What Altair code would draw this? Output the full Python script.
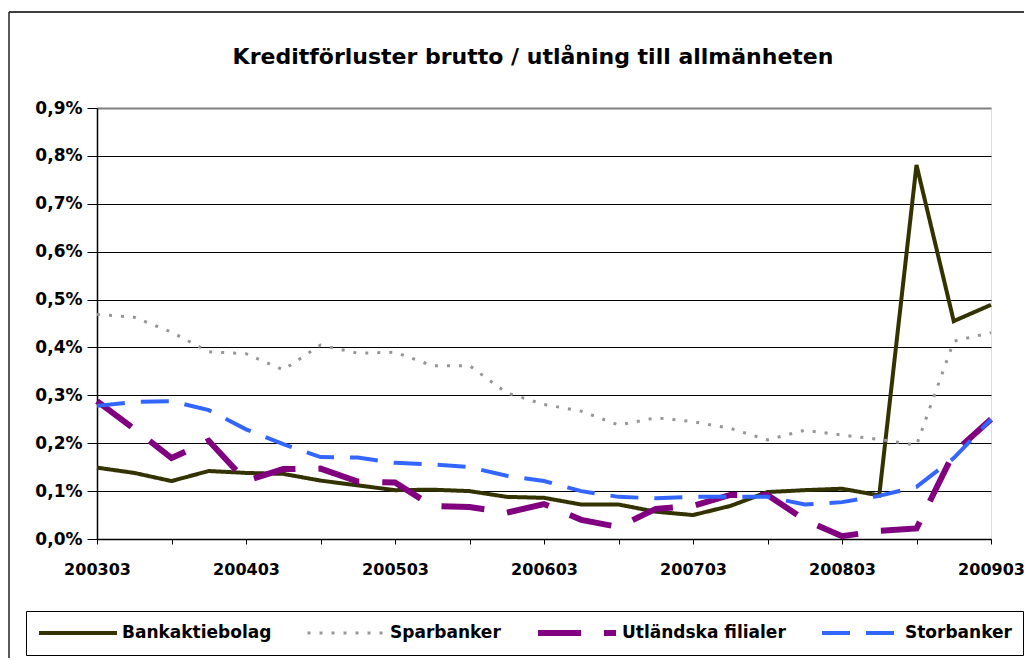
import altair as alt
import pandas as pd

quarters = ["200303", "200306", "200309", "200312",
            "200403", "200406", "200409", "200412",
            "200503", "200506", "200509", "200512",
            "200603", "200606", "200609", "200612",
            "200703", "200706", "200709", "200712",
            "200803", "200806", "200809", "200812",
            "200903"]

series_names = ["Bankaktiebolag", "Sparbanker", "Utländska filialer", "Storbanker"]

bankaktiebolag = [0.149, 0.138, 0.121, 0.142, 0.138, 0.136, 0.122, 0.112, 0.102,
                  0.103, 0.100, 0.088, 0.086, 0.072, 0.072, 0.057, 0.050, 0.069,
                  0.098, 0.102, 0.105, 0.091, 0.781, 0.455, 0.489]
sparbanker = [0.469, 0.463, 0.432, 0.391, 0.387, 0.353, 0.405, 0.388, 0.390,
              0.362, 0.362, 0.305, 0.281, 0.267, 0.238, 0.253, 0.245, 0.231,
              0.207, 0.227, 0.217, 0.208, 0.196, 0.413, 0.431]
utlandska_filialer = [0.288, 0.230, 0.169, 0.205, 0.121, 0.146, 0.147, 0.120, 0.118,
                      0.069, 0.067, 0.055, 0.073, 0.040, 0.025, 0.063, 0.069, 0.092,
                      0.092, 0.040, 0.006, 0.017, 0.022, 0.180, 0.250]
storbanker = [0.278, 0.286, 0.288, 0.269, 0.229, 0.198, 0.171, 0.170, 0.159,
              0.156, 0.150, 0.132, 0.121, 0.100, 0.088, 0.085, 0.088, 0.088,
              0.088, 0.072, 0.077, 0.090, 0.109, 0.169, 0.250]

y_ticks = [0.0, 0.1, 0.2, 0.3, 0.4, 0.5, 0.6, 0.7, 0.8, 0.9]

title_text = "Kreditförluster brutto / utlåning till allmänheten"

colors = ["#333300", "#969696", "#800080", "#3366FF"]
dashes = [[1, 0], [3, 9], [43, 23], [28, 16]]
widths = [4, 3, 6, 4]

rows = []
for name, vals in zip(series_names, [bankaktiebolag, sparbanker, utlandska_filialer, storbanker]):
    for q, v in zip(quarters, vals):
        rows.append({"quarter": q, "series": name, "value": v})
df = pd.DataFrame(rows)

FONT = "DejaVu Sans"

legend = alt.Legend(
    orient="none", legendX=-71, legendY=503, direction="horizontal", title=None,
    symbolType="stroke", symbolSize=6084,
    labelFont=FONT, labelFontSize=17, labelFontWeight="bold", labelColor="black",
    labelOffset=3, columnPadding=34, padding=11,
    strokeColor="black", fillColor="white", clipHeight=22, labelLimit=0,
)

lines = alt.Chart(df).mark_line(strokeCap="butt", strokeJoin="miter").encode(
    x=alt.X("quarter:O", sort=quarters,
            scale=alt.Scale(type="point", padding=0),
            axis=alt.Axis(values=quarters[::2],
                          labelExpr="substring(datum.value, 4, 6) == '03' ? datum.value : ''",
                          labelAngle=0, labelFont=FONT, labelFontSize=16,
                          labelFontWeight="bold", labelColor="black",
                          labelPadding=17, labelOverlap=False,
                          tickSize=5, tickColor="black",
                          domainColor="black", domainWidth=1.5,
                          grid=False, title=None)),
    y=alt.Y("value:Q",
            scale=alt.Scale(domain=[0, 0.9], nice=False, zero=True),
            axis=alt.Axis(values=y_ticks,
                          labelExpr="replace(format(datum.value, '.1f'), '.', ',') + '%'",
                          labelFont=FONT, labelFontSize=17, labelFontWeight="bold",
                          labelColor="black", labelPadding=5,
                          tickSize=10, tickColor="black",
                          domainColor="black", domainWidth=1.5,
                          grid=True,
                          gridColor={"condition": {"test": "datum.value >= 0.85", "value": "#808080"}, "value": "#000000"},
                          gridWidth={"condition": {"test": "datum.value >= 0.85", "value": 2}, "value": 1},
                          title=None)),
    color=alt.Color("series:O", sort=series_names,
                    scale=alt.Scale(type="ordinal", domain=series_names, range=colors), legend=legend),
    strokeDash=alt.StrokeDash("series:O", sort=series_names,
                              scale=alt.Scale(type="ordinal", domain=series_names, range=dashes), legend=legend),
    strokeWidth=alt.StrokeWidth("series:O", sort=series_names,
                                scale=alt.Scale(type="ordinal", domain=series_names, range=widths), legend=legend),
)

deco_df = pd.DataFrame({"title": [title_text]})
left_border = alt.Chart(deco_df).mark_rule(color="black", strokeWidth=1.3).encode(
    x=alt.value(-88), y=alt.value(-96), y2=alt.value(560))
top_border = alt.Chart(deco_df).mark_rule(color="black", strokeWidth=1.3).encode(
    x=alt.value(-88), x2=alt.value(935), y=alt.value(-96))
title = alt.Chart(deco_df).mark_text(
    font=FONT, fontSize=22, fontWeight="bold", color="black",
    align="center", baseline="alphabetic").encode(
    text="title:N", x=alt.value(436), y=alt.value(-44))

chart = alt.layer(lines, left_border, top_border, title).properties(
    width=894, height=431,
    autosize=alt.AutoSizeParams(type="none"),
    padding={"left": 89, "top": 100, "right": 33, "bottom": 119},
).configure_view(stroke="#808080", strokeWidth=2).configure(background="white")

chart.save("out.html", embed_options={"renderer": "svg", "actions": False})
